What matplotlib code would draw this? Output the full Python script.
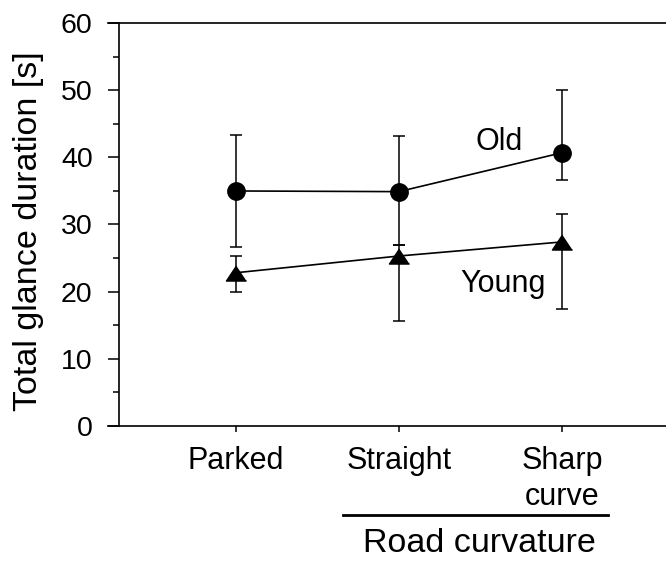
import matplotlib
matplotlib.use("Agg")
import matplotlib.pyplot as plt
from matplotlib.lines import Line2D
from matplotlib.ticker import MultipleLocator
import numpy as np

plt.rcParams['font.family'] = ['Liberation Sans', 'DejaVu Sans']

# ------------- data ------------
conditions = ['Parked', 'Straight', 'Sharp\ncurve']
old_mean = [35.0, 34.9, 40.7]
old_upper = [43.3, 43.2, 50.0]
old_lower = [26.7, 26.9, 36.6]
young_mean = [22.8, 25.3, 27.4]
young_upper = [25.3, 26.9, 31.5]
young_lower = [20.0, 15.6, 17.4]

W, H = 666, 562
fig = plt.figure(figsize=(W / 100, H / 100), dpi=100)
ax = fig.add_axes([108 / W, 1 - 425.7 / H, 1 - 108 / W, (425.7 - 23.3) / H])

x = np.arange(len(conditions))
tri = [(0, 0.75), (-1, -0.75), (1, -0.75)]


def draw_group(mean, lo, hi, marker, ms):
    mean = np.array(mean)
    err = [mean - np.array(lo), np.array(hi) - mean]
    ax.errorbar(x, mean, yerr=err, fmt='none', ecolor='black',
                elinewidth=1.1, capsize=4.3, capthick=1.1, zorder=2)
    ax.plot(x, mean, color='black', lw=1.2, marker=marker, ms=ms,
            markerfacecolor='black', markeredgecolor='black', zorder=3)


draw_group(old_mean, old_lower, old_upper, 'o', 12.5)
draw_group(young_mean, young_lower, young_upper, tri, 14.5)

ax.text(1.617, 41.1, 'Old', fontsize=22, ha='center', va='baseline')
ax.text(1.641, 19.9, 'Young', fontsize=22, ha='center', va='baseline')

# axes styling
ax.set_ylim(0, 60)
ax.set_xlim(-0.781, 2.637)
ax.spines['right'].set_visible(False)
ax.spines['left'].set_position(('data', -0.714))
for s in ['left', 'top', 'bottom']:
    ax.spines[s].set_linewidth(1.2)

ax.yaxis.set_major_locator(MultipleLocator(10))
ax.yaxis.set_minor_locator(MultipleLocator(5))
ax.tick_params(axis='y', which='major', direction='out', length=7.9,
               width=1.1, labelsize=20.5, pad=11)
ax.tick_params(axis='y', which='minor', direction='out', length=4.3, width=1.1)
ax.set_xticks(x)
ax.set_xticklabels(conditions, fontsize=22, linespacing=1.25)
ax.tick_params(axis='x', direction='out', length=4.3, width=1.1, pad=10.5)

fig.text(29 / W, 1 - 231 / H, 'Total glance duration [s]', rotation=90,
         fontsize=24.5, ha='center', va='center')

# group line and label under the driving conditions
fig.add_artist(Line2D([343 / W, 608 / W], [1 - 515 / H, 1 - 515 / H],
                      color='black', lw=2.0))
fig.text(479.5 / W, 1 - 543 / H, 'Road curvature', fontsize=24.5,
         ha='center', va='center')

fig.savefig('out.png', dpi=100)
